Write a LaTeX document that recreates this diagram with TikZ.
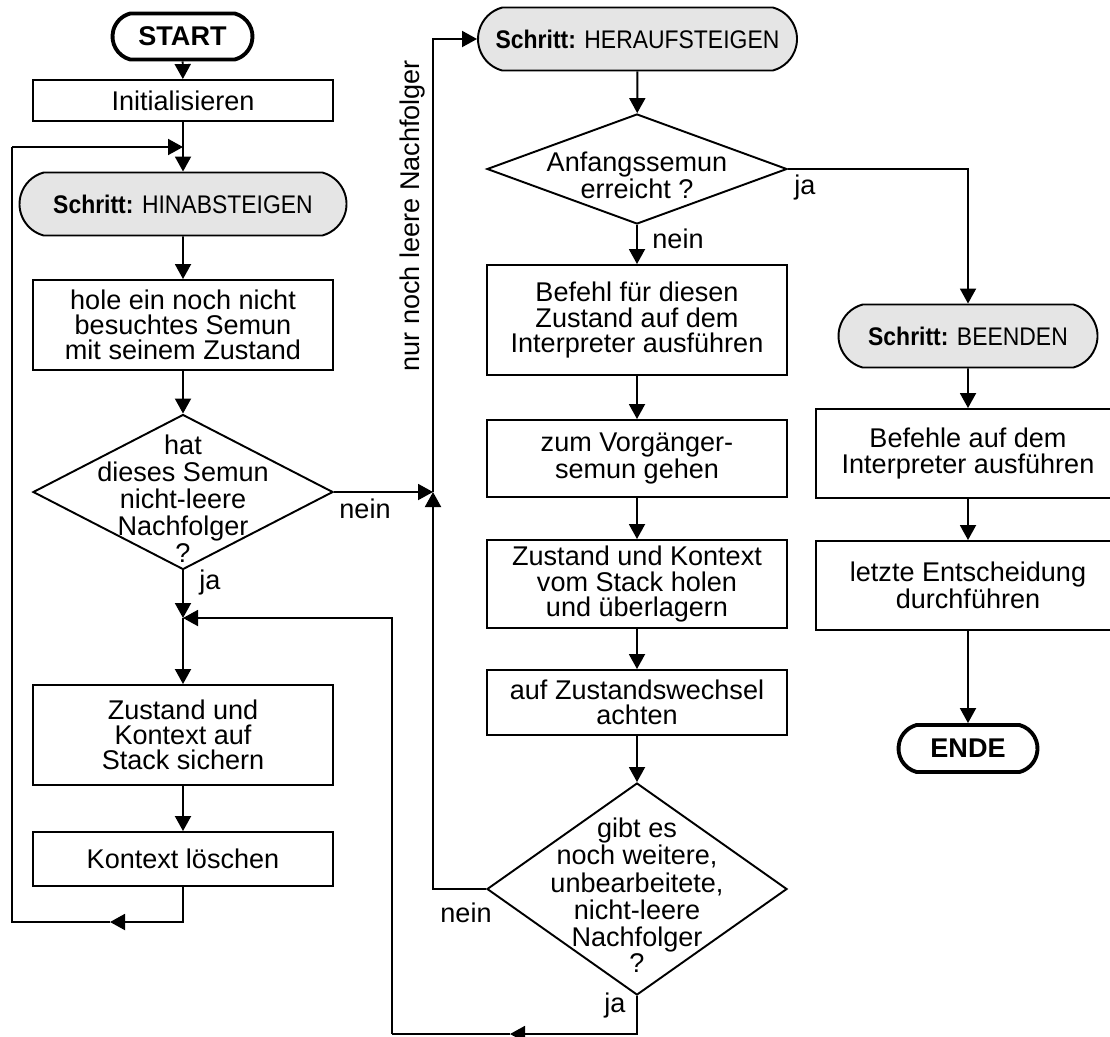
\documentclass[tikz,border=0pt]{standalone}
\usepackage{fontspec}
\setmainfont{Liberation Sans}
\newfontfamily\schrittfont[FakeStretch=0.9]{Liberation Sans}
\usepackage{tikz}
\usetikzlibrary{arrows.meta,shapes.geometric,shapes.misc}

\definecolor{schrittgrau}{gray}{0.9}
\newcommand{\flowfont}{\fontsize{15.4}{14.3}\selectfont}
\newcommand{\fragetext}[1]{\smash{\makebox[0pt]{\raisebox{-0.33cm}{\begin{tabular}{@{}c@{}}#1\end{tabular}}}}}

\begin{document}
\begin{tikzpicture}[line width=1.1pt,>={Triangle[length=0.3cm,width=0.32cm]},
  every node/.style={font=\flowfont},
  box/.style={draw,rectangle,minimum width=6cm,align=center,inner sep=0pt},
  term/.style={draw,rounded rectangle,rounded rectangle arc length=150,line width=2.2pt,
    font=\flowfont\bfseries,minimum width=2.8cm,minimum height=0.92cm,inner sep=0pt},
  schritt/.style={draw,fill=schrittgrau,rounded rectangle,rounded rectangle arc length=150,
    minimum height=1.26cm,inner sep=0pt,font=\schrittfont\fontsize{14.5}{15}\selectfont},
  frage/.style={draw,diamond,minimum width=6cm,inner sep=0pt}]

\useasboundingbox (0,0) rectangle (22.2,-20.72);

\node[term] (start) at (3.65,-0.73) {START};
\node[box,minimum height=0.82cm] (init) at (3.66,-2.01) {Initialisieren};
\node[schritt,minimum width=6.54cm] (hinab) at (3.66,-4.08) {\textbf{Schritt:} HINABSTEIGEN};
\node[box,minimum height=1.8cm] (hole) at (3.66,-6.5) {hole ein noch nicht\\besuchtes Semun\\mit seinem Zustand};
\node[frage,minimum height=3.1cm] (frage1) at (3.66,-9.84) {\fragetext{hat\\dieses Semun\\nicht-leere\\Nachfolger\\?}};
\node[box,minimum height=2cm] (sichern) at (3.66,-14.7) {Zustand und\\Kontext auf\\Stack sichern};
\node[box,minimum height=1.08cm] (loeschen) at (3.66,-17.18) {Kontext löschen};

\node[schritt,minimum width=6.38cm] (herauf) at (12.75,-0.78) {\textbf{Schritt:} HERAUFSTEIGEN};
\node[frage,minimum height=2.2cm] (frage2) at (12.74,-3.38) {\fragetext{Anfangssemun\\erreicht ?}};
\node[box,minimum height=2.2cm] (befehl) at (12.74,-6.4) {Befehl für diesen\\Zustand auf dem\\Interpreter ausführen};
\node[box,minimum height=1.54cm] (vorg) at (12.74,-9.17) {zum Vorgänger-\\semun gehen};
\node[box,minimum height=1.76cm] (holen) at (12.74,-11.68) {Zustand und Kontext\\vom Stack holen\\und überlagern};
\node[box,minimum height=1.3cm] (wechsel) at (12.74,-14.05) {auf Zustandswechsel\\achten};
\node[frage,minimum height=4.24cm] (frage3) at (12.74,-17.78) {\fragetext{gibt es\\noch weitere,\\unbearbeitete,\\nicht-leere\\Nachfolger\\?}};

\node[schritt,minimum width=5.18cm] (beenden) at (19.36,-6.72) {\textbf{Schritt:} BEENDEN};
\node[box,minimum width=6.08cm,minimum height=1.78cm] (befehle) at (19.36,-9.07) {Befehle auf dem\\Interpreter ausführen};
\node[box,minimum width=6.08cm,minimum height=1.78cm] (letzte) at (19.36,-11.71) {letzte Entscheidung\\durchführen};
\node[term,minimum width=2.78cm,minimum height=0.94cm] (ende) at (19.36,-14.97) {ENDE};

\coordinate (lt) at (0.24,-2.94);
\coordinate (lb) at (0.24,-18.44);
\coordinate (lpfeil) at (2.2,-18.44);
\coordinate (ja1) at (3.66,-12.36);
\coordinate (nein1) at (8.66,-9.84);
\coordinate (rb) at (7.84,-20.68);
\coordinate (rpfeil) at (10.2,-20.68);

\draw[->] (start) -- (init);
\draw[->] (init) -- (hinab);
\draw[->] (hinab) -- (hole);
\draw[->] (hole) -- (frage1);
\draw[->] (frage1) -- (ja1);
\draw[->] (ja1) -- (sichern);
\draw[->] (sichern) -- (loeschen);
\draw[->] (loeschen) |- (lpfeil);
\draw (lpfeil) -- (lb) -- (lt);
\draw[->] (lt) -- (lt -| init.south);

\draw[->] (frage1.east) -- (nein1);
\draw[->] (frage3.west) -| (nein1);
\draw[->] (nein1) |- node[pos=0.305,rotate=90,above,inner sep=4pt] (nurnoch) {nur noch leere Nachfolger} (herauf.west);

\draw[->] (herauf) -- (frage2);
\draw[->] (frage2) -- (befehl);
\draw[->] (frage2.east) -| (beenden);
\draw[->] (befehl) -- (vorg);
\draw[->] (vorg) -- (holen);
\draw[->] (holen) -- (wechsel);
\draw[->] (wechsel) -- (frage3);
\draw[->] (frage3.south) |- (rpfeil);
\draw (rpfeil) -- (rb);
\draw[->] (rb) |- (ja1);

\draw[->] (beenden) -- (befehle);
\draw[->] (befehle) -- (letzte);
\draw[->] (letzte) -- (ende);

\node (nein1t) at (7.3,-10.18) {nein};
\node (ja1t) at (4.2,-11.64) {ja};
\node (ja2t) at (16.1,-3.74) {ja};
\node (nein2t) at (13.56,-4.78) {nein};
\node (nein3t) at (9.32,-18.26) {nein};
\node (ja3t) at (12.3,-20.1) {ja};
\end{tikzpicture}
\end{document}
